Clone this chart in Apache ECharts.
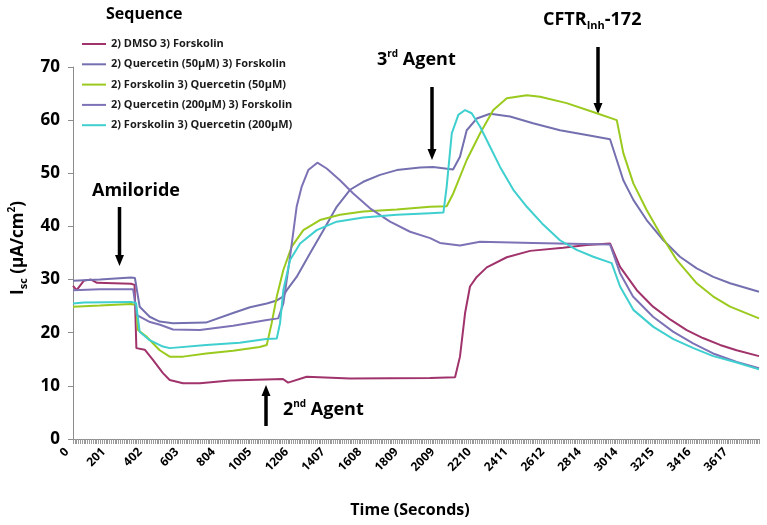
<!DOCTYPE html>
<html>
<head>
<meta charset="utf-8">
<script src="https://cdn.jsdelivr.net/npm/echarts@6/dist/echarts.min.js"></script>
<style>
html,body{margin:0;padding:0;background:#fff;}
#chart{width:767px;height:525px;}
</style>
</head>
<body>
<div id="chart"></div>
<script>
// ---- data (time in seconds, Isc in µA/cm²) ----
const seriesNames = [
  '2) DMSO 3) Forskolin',
  '2) Quercetin (50µM) 3) Forskolin',
  '2) Forskolin 3) Quercetin (50µM)',
  '2) Quercetin (200µM) 3) Forskolin',
  '2) Forskolin 3) Quercetin (200µM)'
];
const dmso = [[0,28.8],[20,28.0],[60,29.8],[99,30.0],[132,29.4],[319,29.2],[338,29.0],[348,17.1],[394,16.8],[439,14.9],[494,12.4],[531,11.1],[604,10.5],[697,10.5],[862,11.0],[1153,11.3],[1181,10.6],[1283,11.7],[1521,11.4],[1961,11.5],[2098,11.6],[2125,15.5],[2153,23.7],[2180,28.7],[2217,30.5],[2272,32.3],[2382,34.2],[2510,35.4],[2691,36.0],[2821,36.5],[2949,36.8],[3004,32.4],[3096,28.0],[3185,24.9],[3283,22.4],[3370,20.5],[3459,19.0],[3553,17.7],[3644,16.7],[3767,15.6]];
const q50Forsk = [[0,29.8],[148,30.0],[319,30.4],[340,30.3],[366,24.9],[421,23.0],[476,22.1],[549,21.8],[730,21.9],[879,23.7],[972,24.8],[1064,25.5],[1115,26.0],[1153,26.8],[1174,28.0],[1228,30.5],[1301,34.9],[1375,39.3],[1448,43.7],[1521,46.9],[1594,48.4],[1686,49.7],[1778,50.6],[1906,51.1],[1977,51.2],[2087,50.7],[2125,53.1],[2162,58.1],[2217,60.3],[2290,61.2],[2400,60.7],[2526,59.4],[2674,58.1],[2821,57.2],[2949,56.4],[2986,52.5],[3022,48.7],[3077,45.0],[3150,41.2],[3242,37.4],[3333,34.3],[3425,32.1],[3516,30.5],[3608,29.3],[3767,27.7]];
const forskQ50 = [[0,24.9],[148,25.1],[319,25.4],[346,25.2],[357,20.5],[403,19.3],[476,16.7],[531,15.5],[604,15.5],[732,16.1],[879,16.6],[1025,17.3],[1064,17.7],[1091,21.8],[1119,26.8],[1155,31.8],[1201,36.2],[1265,39.3],[1356,41.2],[1466,42.2],[1594,42.8],[1778,43.2],[1961,43.7],[2052,43.8],[2088,46.2],[2162,52.5],[2235,57.5],[2308,61.9],[2382,64.1],[2492,64.7],[2565,64.4],[2711,63.2],[2876,61.3],[2986,60.0],[3022,53.8],[3077,48.1],[3150,43.1],[3223,38.7],[3315,33.7],[3425,29.3],[3516,26.8],[3608,24.9],[3767,22.7]];
const q200Forsk = [[0,28.0],[148,28.2],[330,28.2],[351,23.3],[423,22.0],[478,21.5],[549,20.6],[697,20.5],[879,21.3],[1065,22.4],[1127,22.7],[1155,25.5],[1192,34.3],[1228,43.7],[1256,47.5],[1292,50.6],[1342,52.0],[1393,50.9],[1466,48.7],[1539,46.2],[1631,43.4],[1741,40.9],[1851,39.0],[1961,37.8],[2015,36.9],[2125,36.4],[2235,37.1],[2526,36.9],[2949,36.6],[3004,31.2],[3075,26.8],[3185,23.0],[3295,20.2],[3405,18.0],[3515,16.1],[3645,14.5],[3767,13.3]];
const forskQ200 = [[0,25.5],[60,25.7],[319,25.8],[346,25.6],[366,20.2],[421,18.6],[494,17.4],[531,17.1],[732,17.7],[915,18.1],[1061,18.8],[1119,18.9],[1137,21.8],[1155,28.0],[1192,33.7],[1247,36.8],[1338,39.3],[1448,40.9],[1594,41.7],[1778,42.2],[1961,42.5],[2034,42.6],[2052,47.5],[2080,57.5],[2116,61.0],[2153,61.9],[2189,61.3],[2235,58.8],[2290,55.0],[2345,51.2],[2418,46.9],[2492,43.7],[2583,40.3],[2674,37.4],[2766,35.6],[2857,34.3],[2958,33.1],[3004,28.7],[3077,24.3],[3187,21.1],[3297,18.8],[3407,17.1],[3516,15.6],[3645,14.4],[3767,13.1]];
const xTickLabels = [0,201,402,603,804,1005,1206,1407,1608,1809,2009,2210,2411,2612,2814,3014,3215,3416,3617];
const xMax = 3767;

const colors = ['#A0336B','#7470B0','#9ACA1E','#7E72B6','#3FCFCF'];
const allData = [dmso, q50Forsk, forskQ50, q200Forsk, forskQ200];

const FONT = 'Open Sans';

function arrow(x, yStart, yTip) {
  const dir = yTip > yStart ? 1 : -1;
  const headLen = 11, headHalf = 4.5;
  return {
    type: 'group',
    children: [
      { type: 'line', shape: { x1: x, y1: yStart, x2: x, y2: yTip - dir * headLen + dir }, style: { stroke: '#000', lineWidth: 3.5 } },
      { type: 'polygon', shape: { points: [[x - headHalf, yTip - dir * headLen], [x + headHalf, yTip - dir * headLen], [x, yTip]] }, style: { fill: '#000' } }
    ]
  };
}

function richSet(size) {
  return {
    n: { fontFamily: FONT, fontSize: size, fontWeight: 'bold', color: '#000', lineHeight: 22 },
    sup: { fontFamily: FONT, fontSize: 10, fontWeight: 'bold', color: '#000', verticalAlign: 'top', lineHeight: 22, padding: [0,0,8,0] },
    sub: { fontFamily: FONT, fontSize: 11, fontWeight: 'bold', color: '#000', verticalAlign: 'bottom', lineHeight: 22, padding: [8,0,0,0] }
  };
}
const titleRich = richSet(17);
const noteRich = richSet(18);

const chart = echarts.init(document.getElementById('chart'));

chart.setOption({
  animation: false,
  color: colors,
  textStyle: { fontFamily: FONT },
  grid: [
    { left: 73, right: 8, top: 67, bottom: 86, containLabel: false },
    { left: 67, right: 14, top: 67, bottom: 86, containLabel: false }
  ],
  legend: {
    orient: 'vertical', left: 77, top: 33,
    itemWidth: 24, itemHeight: 2, itemGap: 8.3, icon: 'rect',
    textStyle: { fontFamily: FONT, fontSize: 11, fontWeight: 'bold', color: '#1a1a1a', lineHeight: 12 },
    data: seriesNames
  },
  xAxis: [
    {
      gridIndex: 0, type: 'value', min: 0, max: xMax, interval: 10,
      axisLine: { show: true, lineStyle: { color: '#8c8c8c', width: 1 } },
      axisTick: { show: true, length: 5, lineStyle: { color: '#9a9a9a', width: 1 } },
      axisLabel: { show: false },
      splitLine: { show: false }
    },
    {
      gridIndex: 1, type: 'value', min: 0, max: xMax, position: 'bottom',
      axisLine: { show: false }, axisTick: { show: false }, splitLine: { show: false },
      axisLabel: {
        customValues: xTickLabels, rotate: 45, margin: 11,
        formatter: v => String(v),
        fontFamily: FONT, fontSize: 12, fontWeight: 'bold', color: '#000'
      },
      name: 'Time (Seconds)', nameLocation: 'middle', nameGap: 63,
      nameTextStyle: { fontFamily: FONT, fontSize: 16, fontWeight: 'bold', color: '#000' }
    }
  ],
  yAxis: [
    {
      gridIndex: 0, type: 'value', min: 0, max: 70, interval: 10,
      axisLine: { show: true, lineStyle: { color: '#8c8c8c', width: 1 } },
      axisTick: { show: true, length: 5, lineStyle: { color: '#8c8c8c' } },
      axisLabel: { fontFamily: FONT, fontSize: 17, fontWeight: 'bold', color: '#000', margin: 13 },
      splitLine: { show: false }
    },
    {
      gridIndex: 1, type: 'value', min: 0, max: 70, show: false
    }
  ],
  series: seriesNames.map((nm, i) => ({
    name: nm, type: 'line', data: allData[i], xAxisIndex: 0, yAxisIndex: 0,
    showSymbol: false, symbol: 'none',
    lineStyle: { width: 2, color: colors[i] }
  })),
  graphic: [
    { type: 'text', left: 106, top: 6, style: { text: 'Sequence', fontFamily: FONT, fontSize: 16, fontWeight: 'bold', fill: '#000' } },
    { type: 'text', x: 18, y: 248, rotation: Math.PI / 2,
      style: { text: '{n|I}{sub|sc}{n| (µA/cm}{sup|2}{n|)}', rich: titleRich, align: 'center', verticalAlign: 'middle' } },
    { type: 'text', x: 92, y: 191, style: { text: '{n|Amiloride}', rich: noteRich, align: 'left', verticalAlign: 'middle' } },
    { type: 'text', x: 377, y: 60, style: { text: '{n|3}{sup|rd}{n| Agent}', rich: noteRich, align: 'left', verticalAlign: 'middle' } },
    { type: 'text', x: 543, y: 20, style: { text: '{n|CFTR}{sub|Inh}{n|-172}', rich: noteRich, align: 'left', verticalAlign: 'middle' } },
    { type: 'text', x: 283, y: 410, style: { text: '{n|2}{sup|nd}{n| Agent}', rich: noteRich, align: 'left', verticalAlign: 'middle' } },
    arrow(119.5, 207, 266),
    arrow(432, 87, 160),
    arrow(598, 47, 114),
    arrow(266, 426, 385)
  ]
});
</script>
</body>
</html>
